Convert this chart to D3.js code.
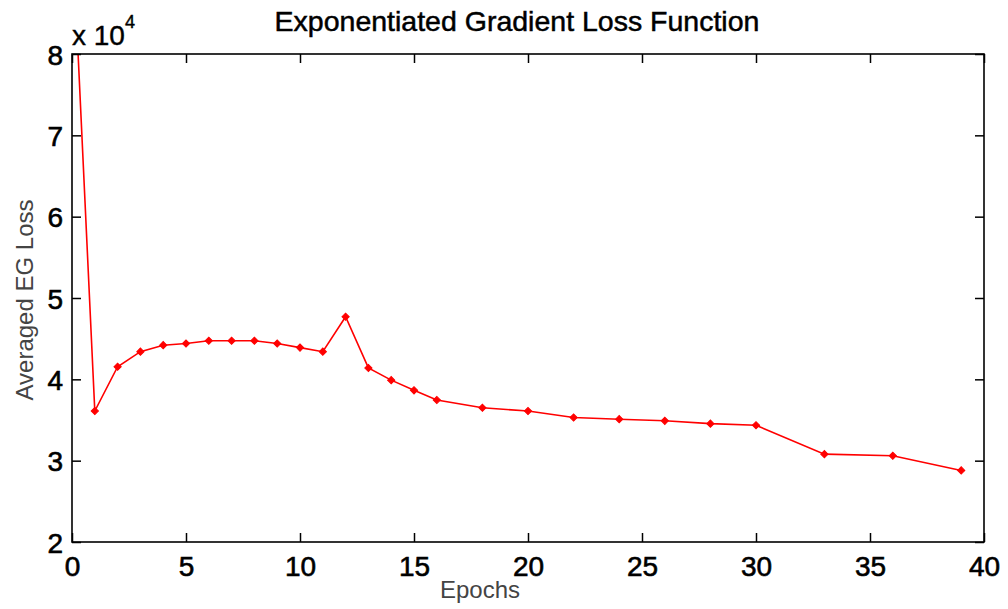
<!DOCTYPE html>
<html><head><meta charset="utf-8">
<script src="https://cdn.jsdelivr.net/npm/d3@7"></script>
<style>
html,body{margin:0;padding:0;background:#fff;}
text{font-family:"Liberation Sans",Arial,sans-serif;}
</style></head>
<body><svg id="c" width="1008" height="609"></svg>
<script>
const epochs = [0,1,2,3,4,5,6,7,8,9,10,11,12,13,14,15,16,18,20,22,24,26,28,30,33,36,39];
const loss   = [9.6,3.61,4.155,4.34,4.42,4.44,4.475,4.475,4.475,4.44,4.39,4.34,4.77,4.14,3.99,3.865,3.746,3.65,3.61,3.53,3.51,3.49,3.455,3.435,3.08,3.06,2.88];
const xTicks = [0,5,10,15,20,25,30,35,40];
const yTicks = [2,3,4,5,6,7,8];
const title = "Exponentiated Gradient Loss Function";
const xLabel = "Epochs";
const yLabel = "Averaged EG Loss";

const L=72,R=984,T=54,B=542;
const svg = d3.select("#c");
const x = d3.scaleLinear().domain([0,40]).range([L,R]);
const y = d3.scaleLinear().domain([2,8]).range([B,T]);

svg.append("defs").append("clipPath").attr("id","clip")
  .append("rect").attr("x",L).attr("y",T).attr("width",R-L).attr("height",B-T);

const g = svg.append("g").attr("clip-path","url(#clip)");
const data = epochs.map((e,i)=>({e,v:loss[i]}));
g.append("path").datum(data)
  .attr("fill","none").attr("stroke","#ff0000").attr("stroke-width",1.6)
  .attr("d", d3.line().x(d=>x(d.e)).y(d=>y(d.v)));
g.selectAll("path.m").data(data).join("path").attr("class","m")
  .attr("transform",d=>`translate(${x(d.e)},${y(d.v)}) rotate(45)`)
  .attr("d",d3.symbol(d3.symbolSquare, 26)())
  .attr("fill","#ff0000").attr("stroke","#ff0000").attr("stroke-width",1);

// axes with inward ticks
const tl = 9;
const ax = svg.append("g").attr("transform",`translate(0,${B})`)
  .call(d3.axisBottom(x).tickValues(xTicks).tickSizeInner(-tl).tickSizeOuter(0).tickPadding(14).tickFormat(d3.format("d")));
const axT = svg.append("g").attr("transform",`translate(0,${T})`)
  .call(d3.axisTop(x).tickValues(xTicks).tickSizeInner(-tl).tickSizeOuter(0).tickFormat(""));
const ay = svg.append("g").attr("transform",`translate(${L},0)`)
  .call(d3.axisLeft(y).tickValues(yTicks).tickSizeInner(-tl).tickSizeOuter(0).tickPadding(9).tickFormat(d3.format("d")));
const ayR = svg.append("g").attr("transform",`translate(${R},0)`)
  .call(d3.axisRight(y).tickValues(yTicks).tickSizeInner(-tl).tickSizeOuter(0).tickFormat(""));
[ax,axT,ay,ayR].forEach(a=>{
  a.select(".domain").remove();
  a.selectAll("line").attr("stroke","#000").attr("stroke-width",1.5);
  a.selectAll("text").attr("fill","#000").attr("stroke","#000").attr("stroke-width",0.6)
    .style("font-size","28px").style("font-family","'Liberation Sans',Arial,sans-serif");
});
ay.selectAll("text").attr("dy","0.36em");
svg.append("rect").attr("x",L).attr("y",T).attr("width",R-L).attr("height",B-T)
  .attr("fill","none").attr("stroke","#000").attr("stroke-width",1.6);

// exponent
const ex = svg.append("text").attr("x",L).attr("y",45).attr("fill","#000")
  .attr("stroke","#000").attr("stroke-width",0.4).style("font-size","28px");
ex.append("tspan").text("x 10");
ex.append("tspan").attr("dy",-17).style("font-size","18px").text("4");

svg.append("text").attr("x",517).attr("y",31).attr("text-anchor","middle")
  .attr("stroke","#000").attr("stroke-width",0.5)
  .style("font-size","28.5px").attr("fill","#000").text(title);
svg.append("text").attr("x",480).attr("y",598).attr("text-anchor","middle")
  .style("font-size","24px").attr("fill","#444").text(xLabel);
svg.append("text").attr("transform","translate(33,300) rotate(-90)").attr("text-anchor","middle")
  .style("font-size","24px").attr("fill","#444").text(yLabel);
</script></body></html>
